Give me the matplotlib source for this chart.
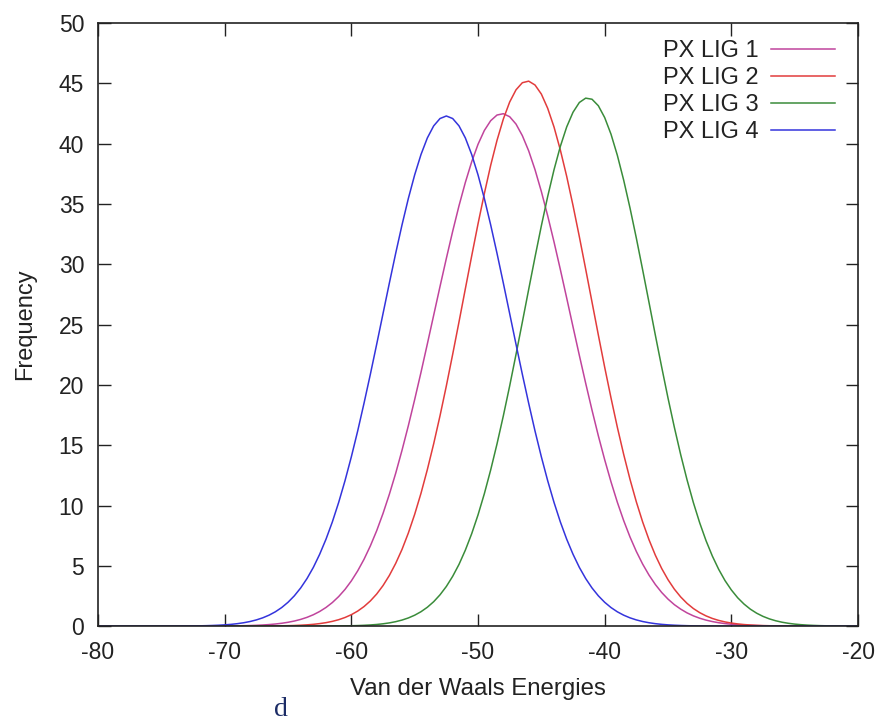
import numpy as np
import matplotlib
matplotlib.use("Agg")
import matplotlib.pyplot as plt

plt.rcParams['font.family'] = ['Liberation Sans', 'DejaVu Sans']
plt.rcParams['axes.unicode_minus'] = False

# energies, one point every half unit from -80 to -20
energy = np.arange(-80, -19.75, 0.5)

lig1 = [0] * 17 + [
    0.004, 0.005, 0.008, 0.011, 0.017, 0.024, 0.034, 0.048, 0.067, 0.093,
    0.128, 0.175, 0.236, 0.318, 0.422, 0.557, 0.728, 0.944, 1.214, 1.547,
    1.955, 2.451, 3.043, 3.749, 4.58, 5.54, 6.65, 7.91, 9.34, 10.93,
    12.67, 14.58, 16.62, 18.79, 21.05, 23.40, 25.78, 28.16, 30.49, 32.74,
    34.86, 36.79, 38.50, 39.95, 41.10, 41.91, 42.38, 42.49, 42.24, 41.63,
    40.67, 39.41, 37.85, 36.04, 34.03, 31.86, 29.57, 27.21, 24.82, 22.45,
    20.14, 17.91, 15.78, 13.80, 11.96, 10.27, 8.75, 7.39, 6.19, 5.14,
    4.23, 3.45, 2.79, 2.24, 1.78, 1.41, 1.099, 0.852, 0.655, 0.499,
    0.377, 0.282, 0.210, 0.154, 0.113, 0.082, 0.059, 0.042, 0.029, 0.020,
    0.014, 0.010, 0.007, 0.004] + [0] * 10

lig2 = [0] * 27 + [
    0.011, 0.016, 0.024, 0.036, 0.052, 0.075, 0.106, 0.149, 0.209, 0.288,
    0.394, 0.533, 0.715, 0.949, 1.246, 1.621, 2.088, 2.662, 3.360, 4.20,
    5.20, 6.36, 7.72, 9.27, 11.02, 12.98, 15.12, 17.44, 19.92, 22.54,
    25.23, 27.97, 30.69, 33.35, 35.87, 38.21, 40.28, 42.05, 43.46, 44.47,
    45.06, 45.19, 44.87, 44.12, 42.94, 41.39, 39.48, 37.30, 34.88, 32.29,
    29.60, 26.87, 24.14, 21.47, 18.92, 16.49, 14.24, 12.17, 10.30, 8.63,
    7.16, 5.88, 4.78, 3.85, 3.065, 2.42, 1.888, 1.46, 1.118, 0.848,
    0.636, 0.473, 0.348, 0.253, 0.183, 0.130, 0.092, 0.065, 0.045, 0.031,
    0.021, 0.014, 0.009, 0.006] + [0] * 10

lig3 = [0] * 35 + [
    0.004, 0.006, 0.009, 0.014, 0.021, 0.031, 0.046, 0.067, 0.096, 0.136,
    0.192, 0.267, 0.368, 0.502, 0.677, 0.905, 1.196, 1.565, 2.025, 2.596,
    3.289, 4.13, 5.12, 6.30, 7.66, 9.22, 10.98, 12.95, 15.11, 17.44,
    19.92, 22.53, 25.21, 27.92, 30.60, 33.19, 35.62, 37.84, 39.78, 41.39,
    42.61, 43.42, 43.78, 43.69, 43.15, 42.17, 40.79, 39.04, 36.98, 34.67,
    32.17, 29.53, 26.84, 24.13, 21.48, 18.91, 16.49, 14.22, 12.14, 10.25,
    8.57, 7.09, 5.81, 4.71, 3.775, 3.00, 2.352, 1.83, 1.406, 1.071,
    0.807, 0.601, 0.444, 0.324, 0.234, 0.167, 0.119, 0.083, 0.058, 0.039,
    0.027, 0.018, 0.012, 0.008, 0.005, 0.003]

lig4 = [0] * 11 + [
    0.003, 0.005, 0.007, 0.011, 0.017, 0.024, 0.036, 0.052, 0.074, 0.104,
    0.146, 0.203, 0.280, 0.381, 0.514, 0.686, 0.907, 1.187, 1.539, 1.976,
    2.513, 3.164, 3.946, 4.87, 5.96, 7.21, 8.64, 10.26, 12.06, 14.04,
    16.18, 18.48, 20.88, 23.37, 25.91, 28.44, 30.91, 33.27, 35.46, 37.42,
    39.11, 40.48, 41.48, 42.09, 42.30, 42.09, 41.48, 40.48, 39.11, 37.42,
    35.46, 33.27, 30.91, 28.44, 25.91, 23.37, 20.88, 18.48, 16.18, 14.04,
    12.06, 10.26, 8.64, 7.21, 5.96, 4.87, 3.946, 3.164, 2.513, 1.976,
    1.539, 1.187, 0.907, 0.686, 0.514, 0.381, 0.280, 0.203, 0.146, 0.104,
    0.074, 0.052, 0.036, 0.024, 0.017, 0.011, 0.007, 0.005, 0.003] + [0] * 21

labels = ["PX LIG 1", "PX LIG 2", "PX LIG 3", "PX LIG 4"]
colors = ["#c0449c", "#e23c3c", "#3a8c3a", "#3434dc"]

fig = plt.figure(figsize=(8.83, 7.23), dpi=100)
ax = fig.add_axes([0.111, 0.134, 0.8607, 0.834])

for ys, lab, c in zip([lig1, lig2, lig3, lig4], labels, colors):
    ax.plot(energy, ys, color=c, lw=1.1, label=lab)

ax.set_xlim(-80, -20)
ax.set_ylim(0, 50)
ax.set_xticks(np.arange(-80, -19, 10))
ax.set_yticks(np.arange(0, 51, 5))
ax.tick_params(direction='in', length=9, width=1, top=True, right=True,
               labelsize=16.5, colors='#222222')
ax.tick_params(axis='x', pad=10.5)
ax.tick_params(axis='y', pad=10)
for sp in ax.spines.values():
    sp.set_linewidth(1.2)
    sp.set_color('#222222')

ax.set_xlabel("Van der Waals Energies", fontsize=17.3, color='#222222', labelpad=10)
ax.set_ylabel("Frequency", fontsize=17, color='#222222', labelpad=16)

ax.legend(loc='upper right', bbox_to_anchor=(0.9457, 0.944),
          bbox_transform=fig.transFigure, frameon=False, markerfirst=False,
          fontsize=17, handlelength=2.7, handletextpad=0.55,
          labelspacing=0.21, borderpad=0, borderaxespad=0,
          labelcolor='#222222')

fig.text(0.318, 0.0097, "d", fontsize=20, family='Liberation Serif',
         color='#1c2c66', ha='center', va='baseline')

fig.savefig("out.png", dpi=100)
